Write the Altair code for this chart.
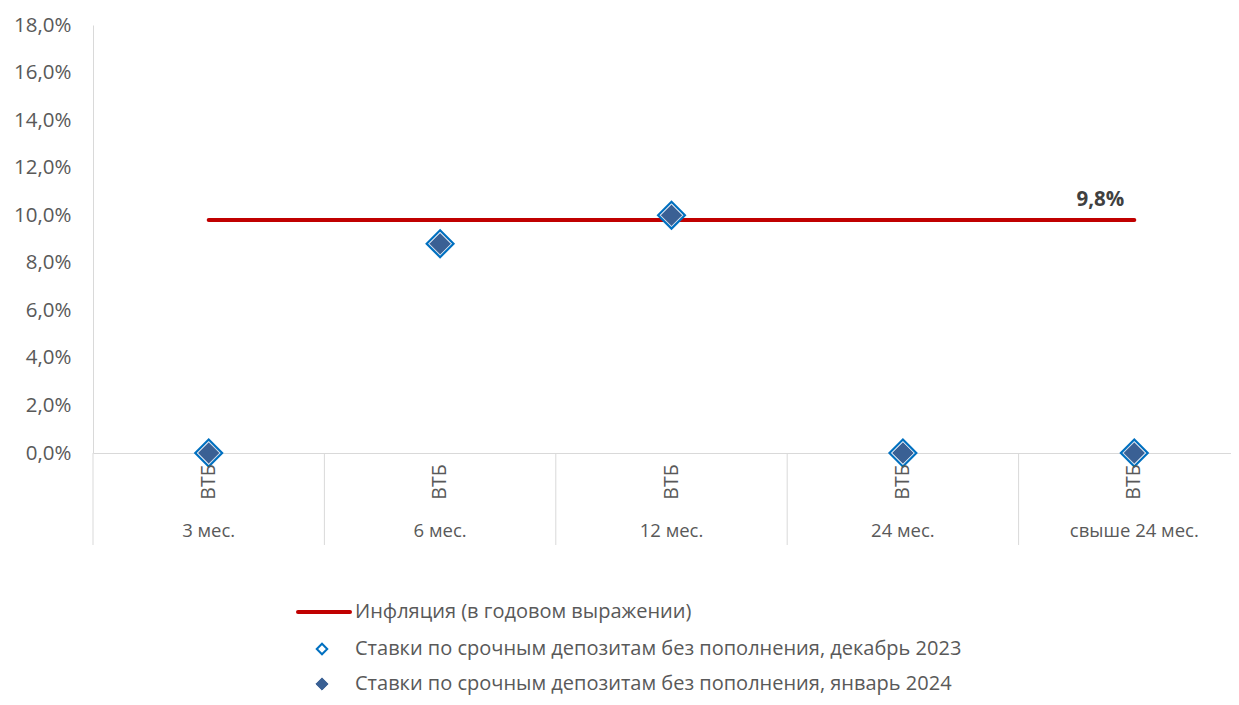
import altair as alt
import pandas as pd

categories = ["3 мес.", "6 мес.", "12 мес.", "24 мес.", "свыше 24 мес."]
banks = ["ВТБ", "ВТБ", "ВТБ", "ВТБ", "ВТБ"]
dec_2023 = [0.0, 0.088, 0.100, 0.0, 0.0]
jan_2024 = [0.0, 0.088, 0.100, 0.0, 0.0]
inflation = [0.098, 0.098, 0.098, 0.098, 0.098]
inflation_label = "9,8%"
y_ticks = [0.0, 0.02, 0.04, 0.06, 0.08, 0.10, 0.12, 0.14, 0.16, 0.18]
legend_labels = [
    "Инфляция (в годовом выражении)",
    "Ставки по срочным депозитам без пополнения, декабрь 2023",
    "Ставки по срочным депозитам без пополнения, январь 2024",
]

df = pd.DataFrame({
    "cat": categories,
    "bank": banks,
    "dec": dec_2023,
    "jan": jan_2024,
    "infl": inflation,
})

FONT = "Open Sans"
GRAY = "#595959"
LINE = "#d9d9d9"

X = alt.X("cat:N", sort=categories, title=None,
          scale=alt.Scale(range=[0, 1157], paddingInner=0, paddingOuter=0),
          axis=alt.Axis(labels=False, ticks=False, domain=True, domainColor=LINE,
                        grid=False, title=None))
Ysc = alt.Scale(domain=[0, 0.18], nice=False)
Yaxis = alt.Axis(values=y_ticks, labelExpr="replace(format(datum.value, '.1%'), '.', ',')",
                 ticks=False, grid=False, domain=True, domainColor=LINE,
                 labelFontSize=20.5, labelColor=GRAY, labelFont=FONT, labelPadding=22,
                 title=None)

base = alt.Chart(df)

seps = base.mark_rule(color=LINE, strokeWidth=1).encode(
    x=alt.X("cat:N", sort=categories, bandPosition=0),
    y=alt.value(428), y2=alt.value(520))

infl_line = base.mark_line(color="#c00000", strokeWidth=4, strokeCap="round").encode(
    x=X, y=alt.Y("infl:Q", scale=Ysc, axis=Yaxis))

dec_pts = base.mark_point(shape="diamond", filled=True, fill="#ffffff", stroke="#0070c0",
                          strokeWidth=2.2, size=720, opacity=1).encode(
    x=alt.X("cat:N", sort=categories), y=alt.Y("dec:Q", scale=Ysc))

jan_pts = base.mark_point(shape="diamond", filled=True, fill="#3a6094", stroke="#c9d7ea",
                          strokeWidth=1, size=490, opacity=1).encode(
    x=alt.X("cat:N", sort=categories), y=alt.Y("jan:Q", scale=Ysc))

infl_text = base.transform_filter(
    alt.datum.cat == categories[-1]
).mark_text(text=inflation_label, fontWeight="bold", fontSize=20.5, font=FONT,
            color="#404040", dx=-34, dy=-20).encode(
    x=alt.X("cat:N", sort=categories), y=alt.Y("infl:Q", scale=Ysc))

bank_text = base.mark_text(angle=270, fontSize=19.5, font=FONT, color=GRAY,
                           align="center", baseline="middle").encode(
    x=alt.X("cat:N", sort=categories), y=alt.value(457), text="bank:N")

cat_text = base.mark_text(fontSize=18.5, font=FONT, color=GRAY,
                          align="center", baseline="middle").encode(
    x=alt.X("cat:N", sort=categories), y=alt.value(506), text="cat:N")

leg_df = pd.DataFrame({"label": legend_labels, "i": [0, 1, 2]})
leg_base = alt.Chart(leg_df)
leg_y = [587, 624, 659]

leg_line = leg_base.transform_filter(alt.datum.i == 0).mark_rule(
    color="#c00000", strokeWidth=4, strokeCap="round").encode(
    x=alt.value(205), x2=alt.value(257), y=alt.value(leg_y[0]))
leg_dec = leg_base.transform_filter(alt.datum.i == 1).mark_point(
    shape="diamond", filled=True, fill="#ffffff", stroke="#0070c0", strokeWidth=2,
    size=110, opacity=1).encode(x=alt.value(229), y=alt.value(leg_y[1]))
leg_jan = leg_base.transform_filter(alt.datum.i == 2).mark_point(
    shape="diamond", filled=True, fill="#3a6094", stroke="#3a6094", strokeWidth=1,
    size=150, opacity=1).encode(x=alt.value(229), y=alt.value(leg_y[2]))

leg_texts = [
    leg_base.transform_filter(alt.datum.i == k).mark_text(
        fontSize=20, font=FONT, color=GRAY, align="left", baseline="middle").encode(
        x=alt.value(262), y=alt.value(leg_y[k]), text="label:N")
    for k in range(3)
]

chart = alt.layer(
    seps, infl_line, dec_pts, jan_pts, infl_text, bank_text, cat_text,
    leg_line, leg_dec, leg_jan, *leg_texts
).properties(
    width=1138, height=428,
    padding={"left": 85, "top": 17, "right": 0, "bottom": 244},
    autosize=alt.AutoSizeParams(type="none"),
).configure_view(stroke=None)

chart.save("out.html", embed_options={"renderer": "svg", "actions": False})
